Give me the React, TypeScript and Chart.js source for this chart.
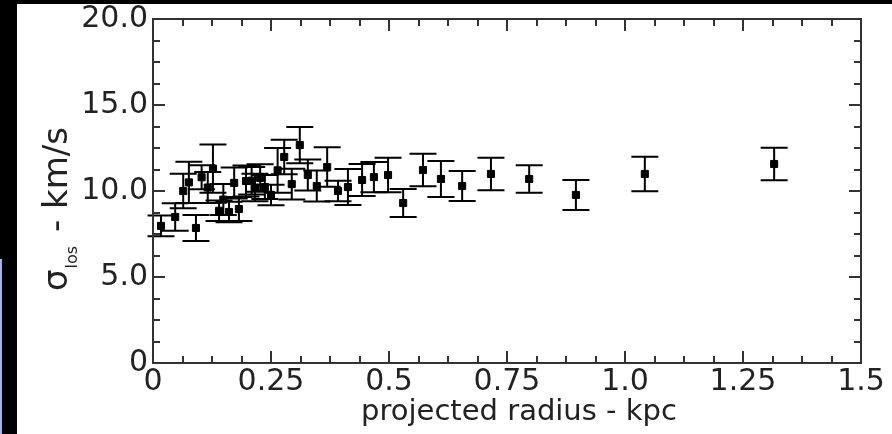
import React, { useEffect, useRef } from "react";
import { Chart, registerables } from "chart.js";

Chart.register(...registerables);

// ---- data ----
const RADIUS_KPC = [
  0.017, 0.047, 0.064, 0.076, 0.091, 0.103, 0.116, 0.127, 0.14, 0.149,
  0.161, 0.172, 0.182, 0.197, 0.209, 0.216, 0.227, 0.237, 0.25, 0.264,
  0.278, 0.294, 0.311, 0.328, 0.347, 0.369, 0.392, 0.413, 0.443, 0.468,
  0.498, 0.53, 0.572, 0.61, 0.655, 0.716, 0.797, 0.896, 1.042, 1.316,
];
const SIGMA_LOS = [
  7.97, 8.49, 10.0, 10.5, 7.85, 10.8, 10.2, 11.3, 8.85, 9.5,
  8.78, 10.47, 8.95, 10.58, 10.6, 10.2, 10.76, 10.23, 9.77, 11.2,
  11.98, 10.4, 12.67, 10.93, 10.29, 11.39, 10.0, 10.23, 10.64, 10.81,
  10.93, 9.3, 11.22, 10.7, 10.29, 10.99, 10.7, 9.77, 10.99, 11.57,
];
const SIGMA_ERR = [
  0.6, 0.8, 1.0, 1.2, 0.75, 0.7, 0.9, 1.4, 0.6, 0.9,
  0.6, 0.9, 0.7, 0.9, 0.8, 0.8, 0.8, 0.7, 0.6, 1.3,
  1.0, 0.9, 1.05, 0.9, 0.9, 1.15, 0.6, 1.05, 0.93, 0.88,
  1.0, 0.81, 0.95, 1.05, 0.87, 0.94, 0.8, 0.87, 1.0, 0.95,
];

const X_TICKS = [0, 0.25, 0.5, 0.75, 1.0, 1.25, 1.5];
const X_TICK_LABELS = ["0", "0.25", "0.5", "0.75", "1.0", "1.25", "1.5"];
const Y_TICKS = [0, 5, 10, 15, 20];
const Y_TICK_LABELS = ["0", "5.0", "10.0", "15.0", "20.0"];
const X_MINOR_STEP = 0.0625;
const Y_MINOR_STEP = 1.25;

const X_TITLE = "projected radius - kpc";
const Y_TITLE_MAIN = "\u03c3";
const Y_TITLE_SUB = "los";
const Y_TITLE_REST = " - km/s";

const FONT = "'DejaVu Sans', Verdana, sans-serif";
const TEXT_COLOR = "#222";
const AXIS_COLOR = "#333";

const backgroundPlugin = {
  id: "whiteBg",
  beforeDraw(chart: any) {
    const { ctx } = chart;
    ctx.save();
    ctx.fillStyle = "#ffffff";
    ctx.fillRect(0, 0, chart.canvas.width, chart.canvas.height);
    ctx.restore();
  },
};

const errorBarPlugin = {
  id: "errorBars",
  beforeDatasetsDraw(chart: any) {
    const { ctx, scales } = chart;
    const xs = scales.x;
    const ys = scales.y;
    ctx.save();
    ctx.strokeStyle = "#000";
    ctx.lineWidth = 2;
    const cap = 13.5;
    for (let i = 0; i < RADIUS_KPC.length; i++) {
      const px = xs.getPixelForValue(RADIUS_KPC[i]);
      const top = ys.getPixelForValue(SIGMA_LOS[i] + SIGMA_ERR[i]);
      const bot = ys.getPixelForValue(SIGMA_LOS[i] - SIGMA_ERR[i]);
      ctx.beginPath();
      ctx.moveTo(px, top);
      ctx.lineTo(px, bot);
      ctx.moveTo(px - cap, top);
      ctx.lineTo(px + cap, top);
      ctx.moveTo(px - cap, bot);
      ctx.lineTo(px + cap, bot);
      ctx.stroke();
    }
    ctx.restore();
  },
};

const framePlugin = {
  id: "frame",
  afterDraw(chart: any) {
    const { ctx, chartArea, scales } = chart;
    const { left, right, top, bottom } = chartArea;
    const xs = scales.x;
    const ys = scales.y;
    ctx.save();
    ctx.strokeStyle = AXIS_COLOR;
    ctx.lineWidth = 2;
    ctx.strokeRect(left, top, right - left, bottom - top);
    ctx.beginPath();
    const nx = Math.round((xs.max - xs.min) / X_MINOR_STEP);
    for (let k = 0; k <= nx; k++) {
      const v = xs.min + k * X_MINOR_STEP;
      const major = X_TICKS.some((t) => Math.abs(t - v) < 1e-6);
      const len = major ? 12 : 7;
      const px = Math.round(xs.getPixelForValue(v));
      ctx.moveTo(px, bottom);
      ctx.lineTo(px, bottom - len);
      ctx.moveTo(px, top);
      ctx.lineTo(px, top + len);
    }
    const ny = Math.round((ys.max - ys.min) / Y_MINOR_STEP);
    for (let k = 0; k <= ny; k++) {
      const v = ys.min + k * Y_MINOR_STEP;
      const major = Y_TICKS.some((t) => Math.abs(t - v) < 1e-6);
      const len = major ? 12 : 7;
      const py = Math.round(ys.getPixelForValue(v));
      ctx.moveTo(left, py);
      ctx.lineTo(left + len, py);
      ctx.moveTo(right, py);
      ctx.lineTo(right - len, py);
    }
    ctx.stroke();

    // axis titles
    ctx.fillStyle = TEXT_COLOR;
    ctx.font = `29px ${FONT}`;
    ctx.textAlign = "center";
    ctx.textBaseline = "alphabetic";
    ctx.fillText(X_TITLE, (left + right) / 2 + 12, bottom + 57);

    const mainFont = `34px ${FONT}`;
    const subFont = `16px ${FONT}`;
    const gap = 4;
    ctx.font = mainFont;
    const wMain = ctx.measureText(Y_TITLE_MAIN).width;
    const wRest = ctx.measureText(Y_TITLE_REST).width;
    ctx.font = subFont;
    const wSub = ctx.measureText(Y_TITLE_SUB).width;
    const total = wMain + wSub + gap + wRest;
    ctx.translate(left - 86, (top + bottom) / 2 + 18);
    ctx.rotate(-Math.PI / 2);
    ctx.textAlign = "left";
    let x = -total / 2;
    ctx.font = mainFont;
    ctx.fillText(Y_TITLE_MAIN, x, 0);
    x += wMain + 1;
    ctx.font = subFont;
    ctx.fillText(Y_TITLE_SUB, x, 10);
    x += wSub + gap - 1;
    ctx.font = mainFont;
    ctx.fillText(Y_TITLE_REST, x, 0);
    ctx.restore();
  },
};

export default function App() {
  const ref = useRef<HTMLCanvasElement | null>(null);
  useEffect(() => {
    if (!ref.current) return;
    const chart = new Chart(ref.current, {
      type: "scatter",
      data: {
        datasets: [
          {
            data: RADIUS_KPC.map((r, i) => ({ x: r, y: SIGMA_LOS[i] })),
            pointStyle: "rect",
            pointRadius: 5,
            pointBorderWidth: 1,
            backgroundColor: "#000",
            borderColor: "#000",
          },
        ],
      },
      options: {
        animation: false,
        responsive: false,
        devicePixelRatio: 1,
        layout: { padding: { top: 15, right: 31, left: 0, bottom: 0 } },
        plugins: { legend: { display: false }, tooltip: { enabled: false } },
        scales: {
          x: {
            type: "linear",
            min: 0,
            max: 1.5,
            grid: { display: false, drawTicks: false },
            border: { display: false },
            afterBuildTicks: (s: any) => {
              s.ticks = X_TICKS.map((v) => ({ value: v }));
            },
            afterFit: (s: any) => {
              s.height = 71;
              s.paddingLeft = 0;
              s.paddingRight = 0;
            },
            ticks: {
              padding: 1.5,
              maxRotation: 0,
              autoSkip: false,
              color: TEXT_COLOR,
              font: { family: FONT, size: 30 },
              callback: (v: any) => {
                const i = X_TICKS.findIndex((t) => Math.abs(t - v) < 1e-9);
                return i >= 0 ? X_TICK_LABELS[i] : "";
              },
            },
          },
          y: {
            type: "linear",
            min: 0,
            max: 20,
            grid: { display: false, drawTicks: false },
            border: { display: false },
            afterBuildTicks: (s: any) => {
              s.ticks = Y_TICKS.map((v) => ({ value: v }));
            },
            afterFit: (s: any) => {
              s.width = 136;
              s.paddingTop = 0;
              s.paddingBottom = 0;
            },
            ticks: {
              padding: 5,
              autoSkip: false,
              color: TEXT_COLOR,
              font: { family: FONT, size: 30 },
              callback: (v: any) => {
                const i = Y_TICKS.findIndex((t) => Math.abs(t - v) < 1e-9);
                return i >= 0 ? Y_TICK_LABELS[i] : "";
              },
            },
          },
        },
      },
      plugins: [backgroundPlugin, errorBarPlugin, framePlugin],
    });
    return () => chart.destroy();
  }, []);

  return (
    <div
      style={{
        position: "fixed",
        left: 0,
        top: 0,
        width: 892,
        height: 434,
        background: "#ffffff",
        overflow: "hidden",
      }}
    >
      <div
        style={{
          position: "absolute",
          left: 0,
          top: 0,
          width: 892,
          height: 4,
          background: "#000",
        }}
      />
      <div
        style={{
          position: "absolute",
          left: 0,
          top: 0,
          width: 17,
          height: 434,
          background: "#000",
        }}
      />
      <div
        style={{
          position: "absolute",
          left: 0,
          top: 259,
          width: 2,
          height: 175,
          background: "#a4b3f7",
        }}
      />
      <canvas
        ref={ref}
        width={875}
        height={430}
        style={{
          position: "absolute",
          left: 17,
          top: 4,
          width: 875,
          height: 430,
        }}
      />
    </div>
  );
}
